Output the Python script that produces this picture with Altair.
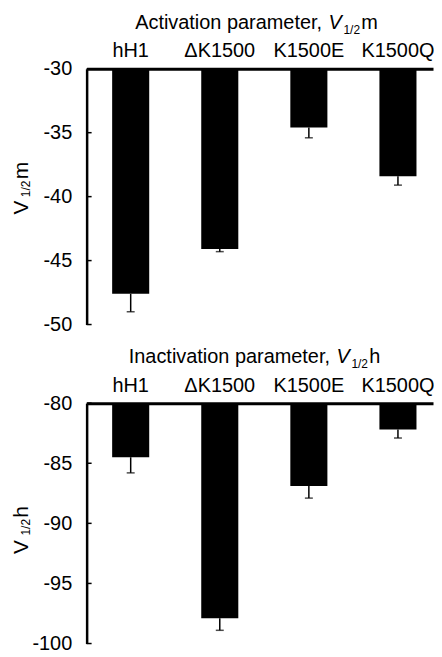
import altair as alt
import pandas as pd

categories = ["hH1", "ΔK1500", "K1500E", "K1500Q"]
act_means = [-47.6, -44.1, -34.6, -38.4]
act_errs = [1.4, 0.2, 0.8, 0.7]
inact_means = [-84.5, -97.9, -86.9, -82.2]
inact_errs = [1.3, 1.0, 1.0, 0.7]
act_ticks = [-30, -35, -40, -45, -50]
inact_ticks = [-80, -85, -90, -95, -100]

FONT = "Liberation Sans"
W = 348


def text_layer(txt, x, y, size=20, style="normal", angle=0, align="left"):
    df = pd.DataFrame({"t": [txt]})
    kw = dict(align=align, baseline="alphabetic", fontSize=size, font=FONT,
              fontStyle=style, color="black")
    if angle:
        kw["angle"] = angle
    return alt.Chart(df).mark_text(**kw).encode(
        x=alt.value(x), y=alt.value(y), text="t:N")


def panel(means, errs, ticks, height, title_parts, ytitle_parts):
    top, bottom = ticks[0], ticks[-1]
    df = pd.DataFrame({
        "cat": categories,
        "mean": means,
        "low": [m - e for m, e in zip(means, errs)],
    })
    yscale = alt.Scale(domain=[bottom, top], nice=False, zero=False)
    yaxis = alt.Axis(values=ticks, title=None, ticks=False, tickSize=0,
                     domainWidth=2.5, domainColor="black", grid=False,
                     labelFontSize=20, labelFont=FONT, labelColor="black",
                     labelPadding=15, labelExpr="'' + datum.value")
    xaxis = alt.Axis(orient="top", title=None, ticks=False, tickSize=0,
                     domainWidth=3, domainColor="black", labelAngle=0,
                     labelFontSize=20, labelFont=FONT, labelColor="black",
                     labelPadding=12, labelBaseline="alphabetic")
    xscale = alt.Scale(paddingInner=0.584, paddingOuter=0.236, align=0.607)
    xenc = alt.X("cat:N", sort=categories, scale=xscale, axis=xaxis)
    base = alt.Chart(df)
    bars = base.mark_bar(color="black").encode(
        x=xenc,
        y=alt.Y("mean:Q", scale=yscale, axis=yaxis),
        y2=alt.datum(top),
    )
    err = base.mark_rule(color="black", strokeWidth=1.5).encode(
        x=xenc, y=alt.Y("mean:Q", scale=yscale, axis=yaxis), y2="low:Q")
    cap = base.mark_tick(color="black", size=8, thickness=1.5).encode(
        x=xenc, y=alt.Y("low:Q", scale=yscale, axis=yaxis))
    tdf = pd.DataFrame({"mean": ticks})
    tk = alt.Chart(tdf).mark_rule(color="black", strokeWidth=1.5).encode(
        y=alt.Y("mean:Q", scale=yscale, axis=yaxis), x=alt.value(0), x2=alt.value(5))
    layers = [bars, err, cap, tk]
    for (txt, x, y, size, style, align) in title_parts:
        layers.append(text_layer(txt, x, y, size, style, 0, align))
    for (txt, x, y, size) in ytitle_parts:
        layers.append(text_layer(txt, x, y, size, "normal", 270))
    return alt.layer(*layers).properties(width=W, height=height)


top_title = [
    ("Activation parameter,", 236.5, -40, 20, "normal", "right"),
    ("V", 243, -40, 20, "italic", "left"),
    ("1/2", 258, -35, 12, "normal", "left"),
    ("m", 276, -40, 20, "normal", "left"),
]
top_ytitle = [
    ("V", -59, 146.5, 21),
    ("1/2", -57, 129, 12),
    ("m", -59, 111, 21),
]
bot_title = [
    ("Inactivation parameter,", 244.5, -40, 20, "normal", "right"),
    ("V", 251, -40, 20, "italic", "left"),
    ("1/2", 266, -35, 12, "normal", "left"),
    ("h", 284, -40, 20, "normal", "left"),
]
bot_ytitle = [
    ("V", -59, 151.5, 21),
    ("1/2", -57, 133, 12),
    ("h", -59, 115, 21),
]

p1 = panel(act_means, act_errs, act_ticks, 257, top_title, top_ytitle)
p2 = panel(inact_means, inact_errs, inact_ticks, 241.5, bot_title, bot_ytitle)

chart = alt.vconcat(p1, p2, spacing=13).properties(
    padding={"left": 3, "top": 3.5, "right": 0, "bottom": 0}
).configure_view(stroke=None)

chart.save("out.html", embed_options={"renderer": "svg", "actions": False})
